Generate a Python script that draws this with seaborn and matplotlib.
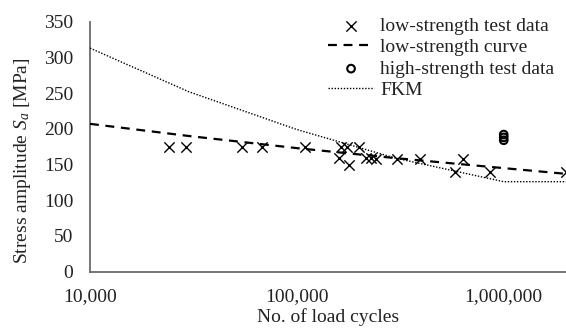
import numpy as np
import pandas as pd
import matplotlib
matplotlib.use("Agg")
import matplotlib.pyplot as plt
import seaborn as sns
from matplotlib.ticker import FixedLocator, FuncFormatter, NullLocator

# ---- data ----
low_cycles = [24000, 29000, 54000, 67500, 110000, 160000, 164000, 174000, 179000,
              199000, 217000, 227000, 240000, 305000, 393000, 579000, 635000,
              863000, 2000000]
low_stress = [175, 175, 175, 175, 175, 159, 175, 175, 149,
              175, 159, 159, 158, 158, 158, 140, 158,
              140, 140]

high_cycles = [1000000, 1000000, 1000000]
high_stress = [184, 188, 192]

curve_cycles = [10000, 30000, 100000, 300000, 1000000, 2000000]
curve_stress = [207, 190, 173, 159, 145, 137]

fkm_cycles = [10000, 30000, 100000, 300000, 1000000, 2000000]
fkm_stress = [313, 252, 199, 159, 126, 126]

x_ticks = [10000, 100000, 1000000]
y_ticks = [0, 50, 100, 150, 200, 250, 300, 350]

# ---- style ----
sns.set_style("white")
plt.rcParams['font.family'] = ['Liberation Serif', 'DejaVu Serif']
plt.rcParams['mathtext.fontset'] = 'custom'
plt.rcParams['mathtext.rm'] = 'Liberation Serif'
plt.rcParams['mathtext.it'] = 'Liberation Serif:italic'

fig = plt.figure(figsize=(5.66, 3.34), dpi=100)
ax = fig.add_axes([90/566, 1 - 271.7/334, 1 - 90/566, 250/334])

df_curve = pd.DataFrame({"N": curve_cycles, "S": curve_stress})
df_fkm = pd.DataFrame({"N": fkm_cycles, "S": fkm_stress})
df_low = pd.DataFrame({"N": low_cycles, "S": low_stress})
df_high = pd.DataFrame({"N": high_cycles, "S": high_stress})

sns.scatterplot(data=df_low, x="N", y="S", ax=ax, marker="x", color="black",
                s=55, linewidth=1.0, label="low-strength test data", zorder=4)
sns.lineplot(data=df_curve, x="N", y="S", ax=ax, color="black", linewidth=1.6,
             linestyle=(0, (4, 3)), label="low-strength curve", zorder=3)
sns.scatterplot(data=df_high, x="N", y="S", ax=ax, marker="o", facecolor="none",
                edgecolor="black", s=30, linewidth=1.5,
                label="high-strength test data", zorder=4)
sns.lineplot(data=df_fkm, x="N", y="S", ax=ax, color="black", linewidth=1.0,
             linestyle=(0, (1, 1.2)), label="FKM", zorder=3)

ax.set_xscale("log")
ax.set_xlim(10000, 2000000)
ax.set_ylim(0, 350)
ax.xaxis.set_major_locator(FixedLocator(x_ticks))
ax.xaxis.set_minor_locator(NullLocator())
ax.xaxis.set_major_formatter(FuncFormatter(lambda v, p: f"{int(round(v)):,}"))
ax.set_yticks(y_ticks)
ax.tick_params(axis="both", length=0, labelsize=14, colors="#222222")
ax.tick_params(axis="x", pad=12)
ax.tick_params(axis="y", pad=12)

ax.set_xlabel("No. of load cycles", fontsize=14, color="#222222", labelpad=2)
ax.set_ylabel("Stress amplitude $S_a$ [MPa]", fontsize=14, color="#222222")
ax.yaxis.set_label_coords(-0.12, 0.443)

for side in ["top", "right"]:
    ax.spines[side].set_visible(False)
for side in ["left", "bottom"]:
    ax.spines[side].set_color("#6b6b6b")
    ax.spines[side].set_linewidth(1.3)

leg = ax.legend(loc="upper right", bbox_to_anchor=(1.0, 1.065), frameon=False,
                fontsize=14, handlelength=2.4, handletextpad=0.3,
                labelspacing=0.2, borderaxespad=0.2)
for t in leg.get_texts():
    t.set_color("#222222")

fig.savefig("out.png", dpi=100)
